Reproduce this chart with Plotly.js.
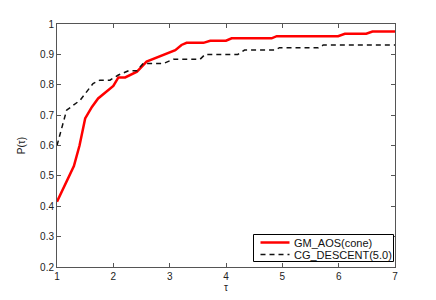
<!DOCTYPE html>
<html><head><meta charset="utf-8">
<script src="https://cdn.plot.ly/plotly-3.0.1.min.js"></script>
<style>html,body{margin:0;padding:0;background:#fff}#c{width:436px;height:300px}</style>
</head><body><div id="c"></div>
<script>
const gmX = [1, 1.17, 1.3, 1.4, 1.5, 1.62, 1.73, 2.0, 2.09, 2.21, 2.42, 2.59, 2.77, 3.1, 3.21, 3.3, 3.6, 3.72, 3.9, 4.0, 4.1, 4.81, 4.9, 5.99, 6.11, 6.49, 6.6, 7];
const gmY = [0.415, 0.48, 0.532, 0.6, 0.689, 0.727, 0.755, 0.796, 0.824, 0.824, 0.843, 0.876, 0.89, 0.914, 0.931, 0.938, 0.938, 0.945, 0.945, 0.945, 0.953, 0.953, 0.96, 0.96, 0.968, 0.968, 0.975, 0.975];
const cgX = [1, 1.17, 1.41, 1.64, 1.76, 1.94, 2.09, 2.27, 2.42, 2.53, 2.89, 3.07, 3.54, 3.63, 4.21, 4.33, 4.86, 4.95, 5.64, 5.73, 7];
const cgY = [0.6, 0.716, 0.749, 0.804, 0.815, 0.815, 0.832, 0.846, 0.846, 0.87, 0.87, 0.884, 0.884, 0.9, 0.9, 0.914, 0.914, 0.922, 0.922, 0.931, 0.931];
const names = ['GM_AOS(cone)', 'CG_DESCENT(5.0)'];
const xTicks = [1, 2, 3, 4, 5, 6, 7];
const yTicks = [0.2, 0.3, 0.4, 0.5, 0.6, 0.7, 0.8, 0.9, 1];
const yTickText = ['0.2', '0.3', '0.4', '0.5', '0.6', '0.7', '0.8', '0.9', '1'];

const fam = 'Liberation Sans, Arial, sans-serif';
const font = {family: fam, size: 10, color: '#222'};
const styles = [
  {color: '#ff0000', width: 2.5},
  {color: '#111', width: 1.5, dash: '5px,4px'}
];
const traces = [
  {x: gmX, y: gmY, name: names[0], mode: 'lines', line: styles[0]},
  {x: cgX, y: cgY, name: names[1], mode: 'lines', line: styles[1]}
];
const axisCommon = {
  showgrid: false, zeroline: false, showline: true, linecolor: '#555', linewidth: 1,
  mirror: 'ticks', ticks: 'inside', ticklen: 4, tickcolor: '#555', tickfont: font
};
// custom legend (paper coordinates)
const W = 436, H = 300, m = {l: 57, r: 41, t: 24, b: 33};
const pw = W - m.l - m.r, ph = H - m.t - m.b;
const px = v => (v - m.l) / pw;
const py = v => (H - m.b - v) / ph;
const shapes = [
  {type: 'rect', xref: 'paper', yref: 'paper', x0: px(253.5), x1: px(393.5), y0: py(261.5), y1: py(234.5),
   line: {color: '#000', width: 1}, fillcolor: '#fff', layer: 'above'},
  {type: 'line', xref: 'paper', yref: 'paper', x0: px(260.5), x1: px(289.5), y0: py(242.5), y1: py(242.5),
   line: styles[0], layer: 'above'},
  {type: 'line', xref: 'paper', yref: 'paper', x0: px(260.5), x1: px(289.5), y0: py(254.5), y1: py(254.5),
   line: {color: '#111', width: 1.5, dash: '5px,4px'}, layer: 'above'}
];
const annotations = [
  {xref: 'paper', yref: 'paper', x: px(291.5), y: py(242.5), xanchor: 'left', yanchor: 'middle', showarrow: false,
   text: names[0], font: {family: fam, size: 11, color: '#111'}},
  {xref: 'paper', yref: 'paper', x: px(291.5), y: py(254.5), xanchor: 'left', yanchor: 'middle', showarrow: false,
   text: names[1], font: {family: fam, size: 11, color: '#111'}}
];
const layout = {
  width: W, height: H,
  margin: m,
  paper_bgcolor: '#fff', plot_bgcolor: '#fff',
  font: font,
  showlegend: false,
  shapes: shapes,
  annotations: annotations,
  xaxis: Object.assign({}, axisCommon, {range: [1, 7], tickvals: xTicks, ticktext: xTicks.map(String),
          title: {text: 'τ', font: {family: fam, size: 10, color: '#222'}, standoff: 1}}),
  yaxis: Object.assign({}, axisCommon, {range: [0.2, 1], tickvals: yTicks, ticktext: yTickText,
          title: {text: 'P(τ)', font: {family: fam, size: 10, color: '#222'}, standoff: 12}})
};
Plotly.newPlot('c', traces, layout, {displayModeBar: false, staticPlot: true});
</script></body></html>
